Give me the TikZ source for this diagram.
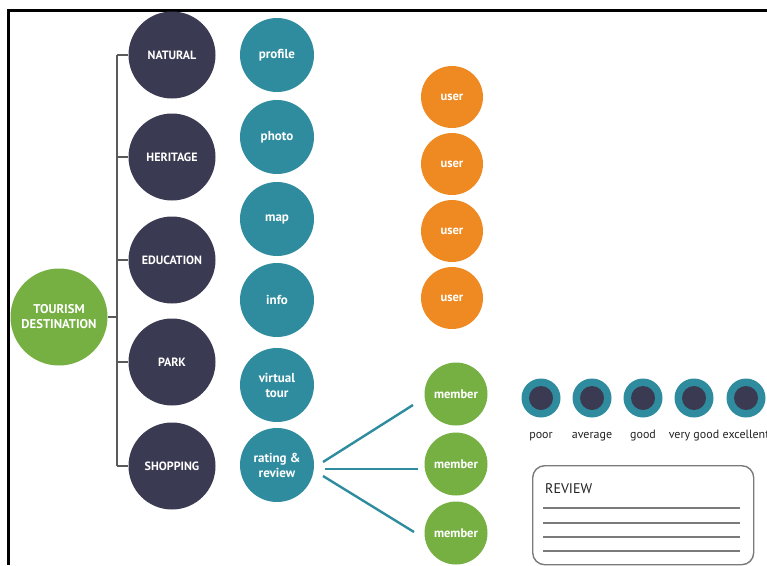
\documentclass[tikz,border=0pt]{standalone}
\usepackage{fontspec}
\setmainfont{PT Sans}
\begin{document}
\begin{tikzpicture}[x=1pt,y=-1pt,
  base/.style={circle,inner sep=0pt,text=white,font=\bfseries\fontsize{12}{13}\selectfont,align=center},
  cat/.style={base,fill=navy,minimum size=87pt},
  feat/.style={base,fill=tealc,minimum size=74pt,font=\bfseries\fontsize{13}{15}\selectfont},
  usr/.style={base,fill=orangec,minimum size=62pt,font=\bfseries\fontsize{12.5}{14}\selectfont},
  mem/.style={base,fill=greenc,minimum size=63pt,font=\bfseries\fontsize{12.5}{14}\selectfont},
  rate/.style={circle,fill=tealc,minimum size=39pt,inner sep=0pt},
  rlab/.style={text=textc,font=\fontsize{12}{14}\selectfont,inner sep=0pt},
  tree/.style={draw=linec,line width=1.3pt},
  link/.style={draw=tealc,line width=2.4pt},
  rline/.style={draw=grayc,line width=1.4pt}]
\definecolor{navy}{HTML}{3A3B52}
\definecolor{tealc}{HTML}{2E8C9E}
\definecolor{orangec}{HTML}{EF8A22}
\definecolor{greenc}{HTML}{76B043}
\definecolor{linec}{HTML}{5A5A5A}
\definecolor{grayc}{HTML}{7A7A7A}
\definecolor{textc}{HTML}{222222}
\useasboundingbox (0,0) rectangle (767,565);
\clip (0,0) rectangle (767,565);
\fill[white] (0,0) rectangle (767,565);
% frame
\draw[line width=2.2pt] (8.5,565) -- (8.5,10.5) -- (767,10.5);
% root
\node[base,fill=greenc,minimum size=97pt,font=\bfseries\fontsize{12.7}{15}\selectfont] (root) at (59,317) {TOURISM\\DESTINATION};
% categories
\node[cat] (c1) at (172,55) {NATURAL};
\node[cat] (c2) at (172,157) {HERITAGE};
\node[cat] (c3) at (172,260) {EDUCATION};
\node[cat] (c4) at (172,362) {PARK};
\node[cat] (c5) at (172,466) {SHOPPING};
\coordinate (bt) at (117,55);
\coordinate (bb) at (117,466);
\draw[tree] (bt) -- (bb);
\foreach \c in {c1,c2,c3,c4,c5} \draw[tree] (bt |- \c) -- (\c.west);
\draw[tree] (root.east) -- (bt |- root);
% features
\node[feat] (f1) at (277,55) {profile};
\node[feat] (f2) at (277,137) {photo};
\node[feat] (f3) at (277,219) {map};
\node[feat] (f4) at (277,300) {info};
\node[feat] (f5) at (277,385) {virtual\\tour};
\node[feat] (f6) at (277,465) {rating \&\\review};
% users
\node[usr] (u1) at (452,97) {user};
\node[usr] (u2) at (452,164) {user};
\node[usr] (u3) at (452,231) {user};
\node[usr] (u4) at (452,298) {user};
% members
\node[mem] (m1) at (456,394) {member};
\node[mem] (m2) at (456,464) {member};
\node[mem] (m3) at (456,533) {member};
\coordinate (a1) at (323,462); \coordinate (e1) at (413,405);
\coordinate (a2) at (325,469); \coordinate (e2) at (418,469);
\coordinate (a3) at (323,476); \coordinate (e3) at (414,532);
\draw[link] (a1) -- (e1);
\draw[link] (a2) -- (e2);
\draw[link] (a3) -- (e3);
% ratings
\foreach \x/\n/\t in {541/r1/poor,592/r2/average,643/r3/good,694/r4/very good,746/r5/excellent}{
  \node[rate] (\n) at (\x,398) {};
  \fill[navy] (\n) circle (12pt);
  \node[rlab,anchor=base] at (\x,438) {\t};
}
% review box
\node[draw=grayc,line width=1.4pt,rounded corners=12pt,minimum width=221pt,minimum height=99pt,anchor=north west] (rev) at (532,465) {};
\node[anchor=base west,inner sep=0pt,text=textc,font=\fontsize{14}{16}\selectfont] (revt) at (545,493) {REVIEW};
\foreach \y in {508,523,537,551} \draw[rline] (543,\y) -- (740,\y);
\end{tikzpicture}
\end{document}
